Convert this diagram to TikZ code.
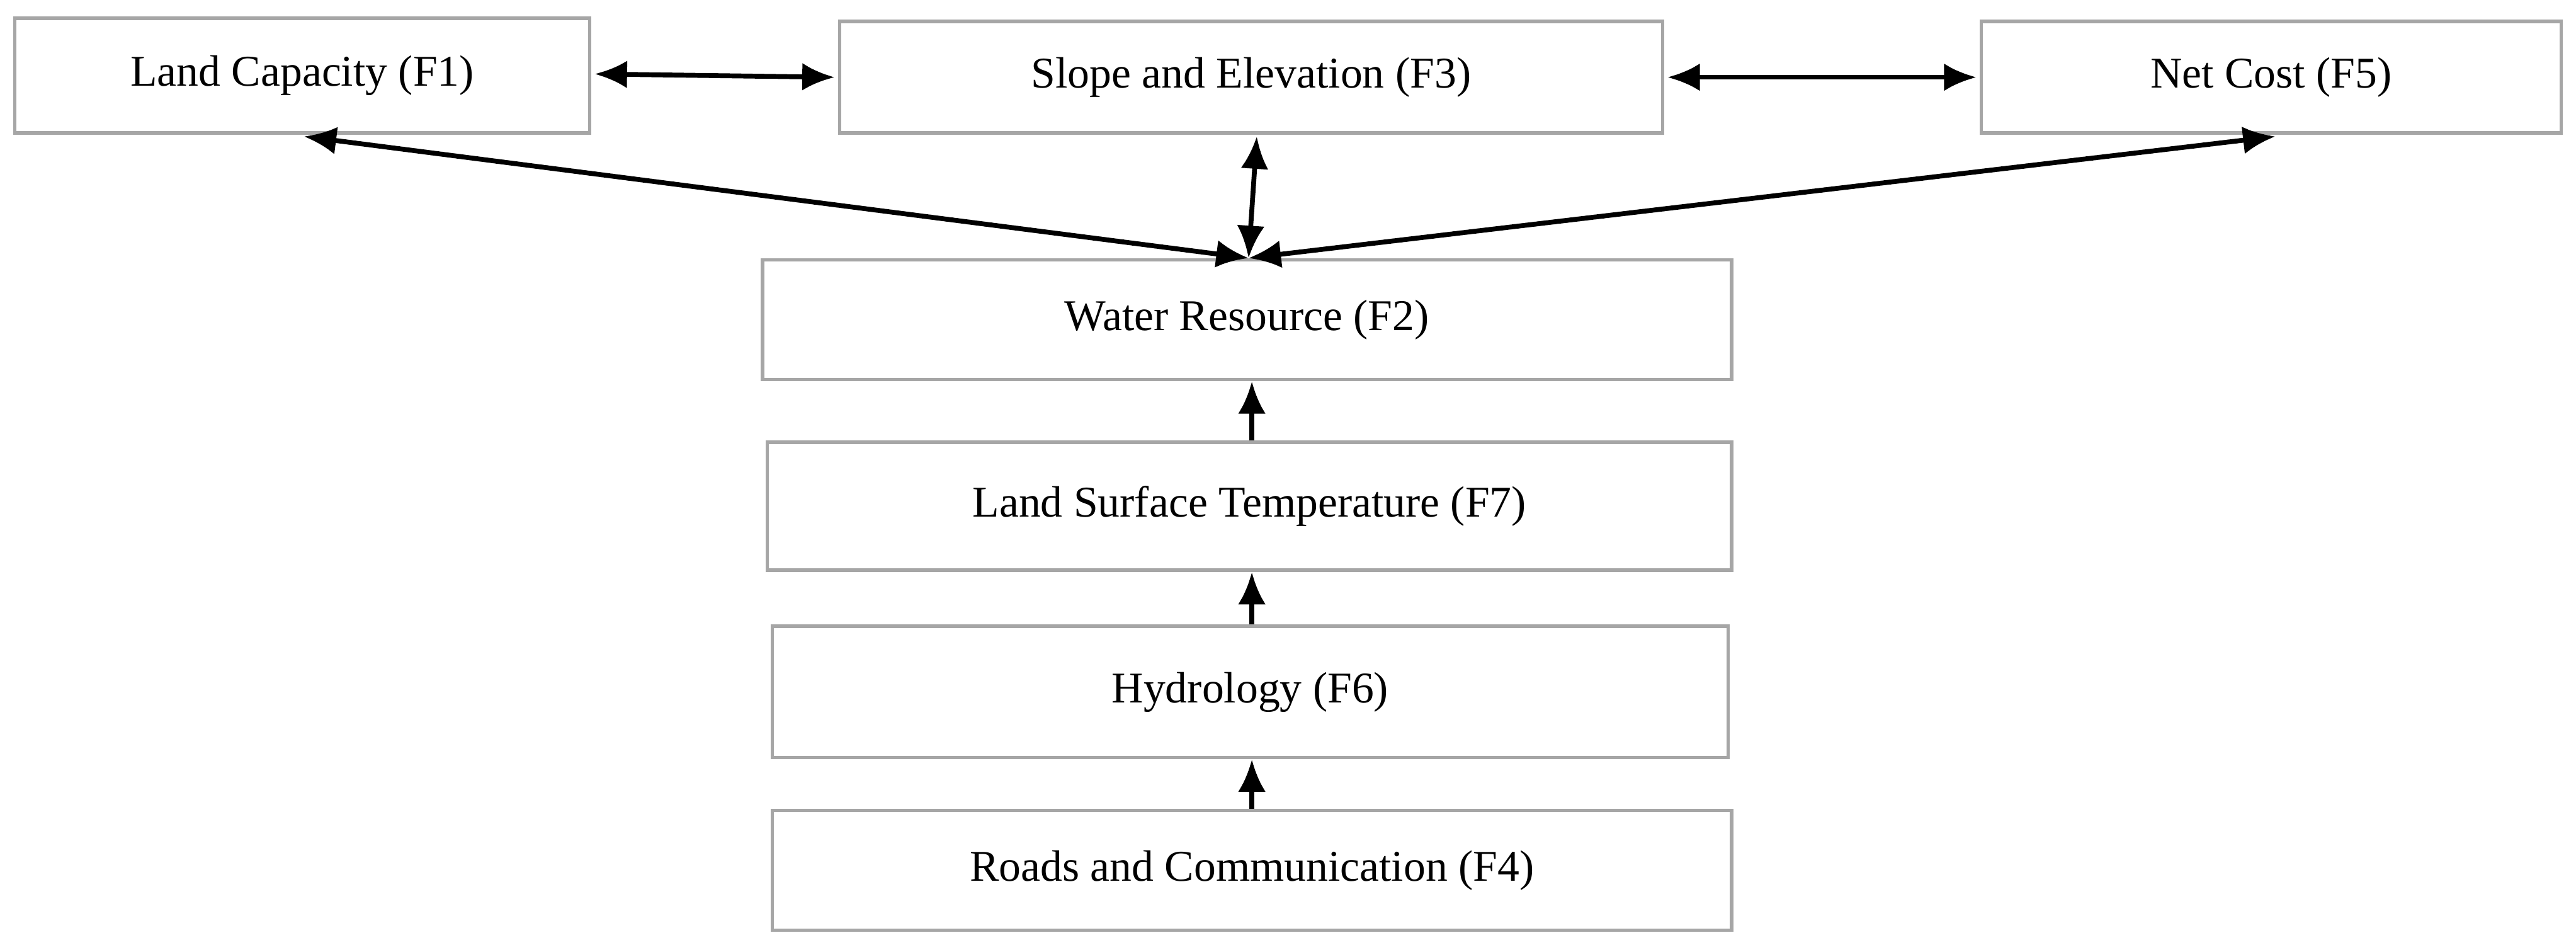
\documentclass[tikz,border=0pt]{standalone}
\usepackage{fontspec}
\setmainfont{Liberation Serif}
\usetikzlibrary{arrows.meta}
\begin{document}
\begin{tikzpicture}[x=0.05cm,y=-0.05cm,
  box/.style={draw=black!35,line width=3pt,inner sep=0pt,font=\fontsize{38}{44}\selectfont},
  arr/.style={line width=4.2pt,-{Latex[length=28pt,width=24pt]}},
  darr/.style={line width=4.2pt,{Latex[length=28pt,width=24pt]}-{Latex[length=28pt,width=24pt]}}]
\useasboundingbox (0,0) rectangle (1568,574.6);
\newcommand{\bx}[6]{\node[box,minimum width=#4*0.05cm-3pt,minimum height=#5*0.05cm-3pt] (#1) at ({(#2+#4/2)},{(#3+#5/2)}) {#6};}
\bx{f1}{8}{10}{352}{72}{Land Capacity (F1)}
\bx{f3}{510}{12}{503}{70}{Slope and Elevation (F3)}
\bx{f5}{1205}{12}{355}{70}{Net Cost (F5)}
\bx{f2}{463}{157}{592}{75}{Water Resource (F2)}
\bx{f7}{466}{268}{589}{80}{Land Surface Temperature (F7)}
\bx{f6}{469}{380}{584}{82}{Hydrology (F6)}
\bx{f4}{469}{492}{586}{75}{Roads and Communication (F4)}
\coordinate (p) at (760,157);
\coordinate (a1) at (185,83);
\coordinate (a5) at (1385,83);
\coordinate (a3) at (765,83);
\draw[darr] (362,45) -- (508,47);
\draw[darr] (1015,47) -- (1203,47);
\draw[darr] (a1) -- (p);
\draw[darr] (a5) -- (p);
\draw[darr] (a3) -- (p);
\draw[arr] (f7.north -| 762,0) -- (f2.south -| 762,0);
\draw[arr] (f6.north -| 762,0) -- (f7.south -| 762,0);
\draw[arr] (f4.north -| 762,0) -- (f6.south -| 762,0);
\end{tikzpicture}
\end{document}
